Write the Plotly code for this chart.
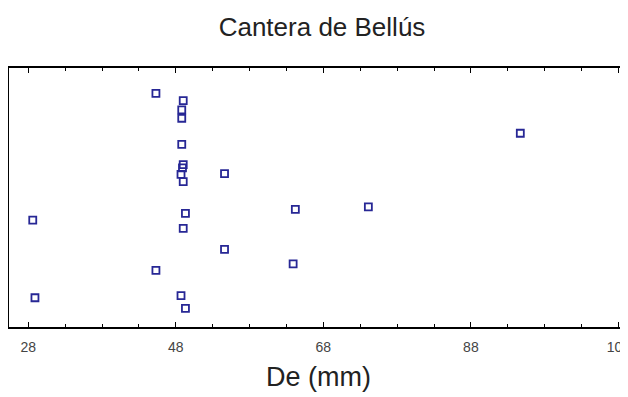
import plotly.graph_objects as go

# Data (y axis is unlabeled; arbitrary units 0-100)
de_mm = [45.3, 49.0, 48.8, 48.8, 48.8, 49.0, 48.9, 48.7, 49.0, 54.6, 28.6, 49.3,
         49.0, 54.6, 45.3, 28.9, 48.7, 49.3, 64.2, 63.9, 74.1, 94.7]
y_val = [90.2, 87.4, 83.8, 80.6, 70.5, 62.7, 61.4, 58.9, 56.1, 59.2, 41.3, 43.9,
         38.1, 30.0, 21.9, 11.3, 12.1, 7.2, 45.4, 24.4, 46.4, 74.8]
x_ticks = [28, 48, 68, 88, 108]

FONT = "Liberation Sans, Arial, sans-serif"

fig = go.Figure()
fig.add_trace(go.Scatter(
    x=de_mm, y=y_val, mode="markers",
    marker=dict(symbol="square-open", size=7, color="#272795",
                line=dict(width=1.8, color="#272795")),
    showlegend=False,
))

fig.update_layout(
    width=628, height=397,
    margin=dict(l=1, r=8, t=60, b=78),
    paper_bgcolor="white", plot_bgcolor="white",
    title=dict(text="Cantera de Bellús", x=0.5, xanchor="center",
               y=1 - 19/397, yanchor="middle",
               font=dict(family=FONT, size=26, color="#222")),
    xaxis=dict(range=[25.38, 109.3], tickvals=x_ticks,
               ticktext=[str(t) for t in x_ticks],
               ticks="inside", ticklen=5, tickwidth=1, tickcolor="black",
               minor=dict(dtick=5, tick0=28, ticks="inside", ticklen=3,
                          tickcolor="black", showgrid=False),
               showline=True, linecolor="black", linewidth=1.6, mirror="ticks",
               showgrid=False, zeroline=False, automargin=False,
               ticklabelstandoff=6,
               tickfont=dict(family=FONT, size=14, color="#444"),
               title=dict(text="De (mm)", standoff=14,
                          font=dict(family=FONT, size=27, color="#222"))),
    yaxis=dict(range=[0, 100], showticklabels=False, ticks="",
               showline=True, linecolor="black", linewidth=1.6, mirror=False,
               showgrid=False, zeroline=False),
)

fig.write_html("out.html")
